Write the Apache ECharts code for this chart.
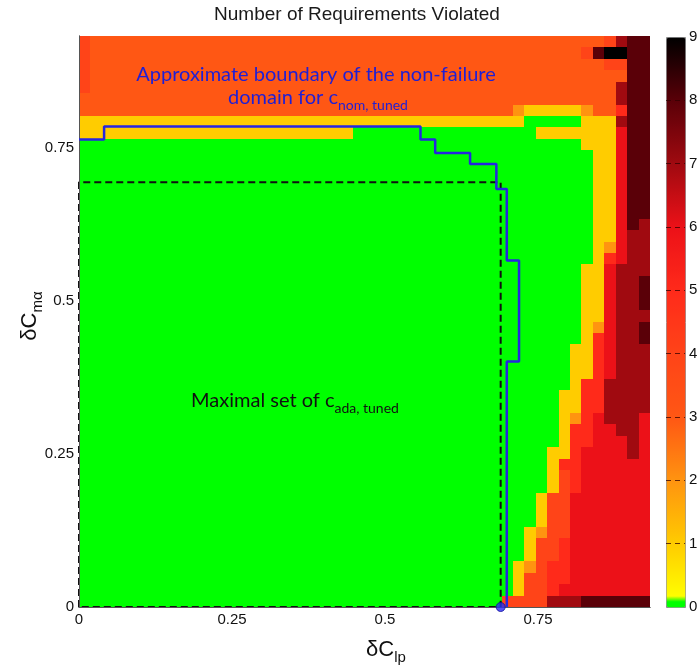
<!DOCTYPE html>
<html><head><meta charset="utf-8">
<script src="https://cdn.jsdelivr.net/npm/echarts@6/dist/echarts.min.js"></script>
<style>html,body{margin:0;padding:0;background:#fff}#c{width:697px;height:672px}</style>
</head><body><div id="c"></div>
<script>
// ---------- data ----------
const nCells = 50;                 // cells per side of the grid
const axisMax = 0.933;             // axis value at the far edge of the cell grid
const axisTicks = [0, 0.25, 0.5, 0.75];
const colorbarTicks = [0, 1, 2, 3, 4, 5, 6, 7, 8, 9];

// Number of requirements violated, one string per grid row (top row first), one digit per cell
const rowsUpper = [
  "4333333333 3333333333 3333333333 3333333333 3333334788",
  "4333333333 3333333333 3333333333 3333333333 3333489988",
  "4333333333 3333333333 3333333333 3333333333 3333334488",
  "4333333333 3333333333 3333333333 3333333333 3333333388",
  "4333333333 3333333333 3333333333 3333333333 3333333788",
  "3333333333 3333333333 3333333333 3333333333 3333333788",
  "3333333333 3333333333 3333333333 3333333321 1111233588",
  "1111111111 1111111111 1111111111 1111111110 0000111788",
  "1111111111 1111111111 1111000000 0000000000 1111111688",
  "0000000000 0000000000 0000000000 0000000000 0000111688",
  "0000000000 0000000000 0000000000 0000000000 0000011688",
  "0000000000 0000000000 0000000000 0000000000 0000011688"
];
const rowsMiddle = [
  "0000000000 0000000000 0000000000 0000000000 0000011688",
  "0000000000 0000000000 0000000000 0000000000 0000011688",
  "0000000000 0000000000 0000000000 0000000000 0000011688",
  "0000000000 0000000000 0000000000 0000000000 0000011688",
  "0000000000 0000000000 0000000000 0000000000 0000011687",
  "0000000000 0000000000 0000000000 0000000000 0000011677",
  "0000000000 0000000000 0000000000 0000000000 0000012677",
  "0000000000 0000000000 0000000000 0000000000 0000015677",
  "0000000000 0000000000 0000000000 0000000000 0000116777",
  "0000000000 0000000000 0000000000 0000000000 0000116778",
  "0000000000 0000000000 0000000000 0000000000 0000116778",
  "0000000000 0000000000 0000000000 0000000000 0000116778",
  "0000000000 0000000000 0000000000 0000000000 0000116777",
  "0000000000 0000000000 0000000000 0000000000 0000126778",
  "0000000000 0000000000 0000000000 0000000000 0000156778",
  "0000000000 0000000000 0000000000 0000000000 0001156777",
  "0000000000 0000000000 0000000000 0000000000 0001156777",
  "0000000000 0000000000 0000000000 0000000000 0001156777"
];
const rowsLower = [
  "0000000000 0000000000 0000000000 0000000000 0001557777",
  "0000000000 0000000000 0000000000 0000000000 0011557777",
  "0000000000 0000000000 0000000000 0000000000 0011557777",
  "0000000000 0000000000 0000000000 0000000000 0012567776",
  "0000000000 0000000000 0000000000 0000000000 0015566776",
  "0000000000 0000000000 0000000000 0000000000 0015566676",
  "0000000000 0000000000 0000000000 0000000000 0115666676",
  "0000000000 0000000000 0000000000 0000000000 0155666666",
  "0000000000 0000000000 0000000000 0000000000 0145666666",
  "0000000000 0000000000 0000000000 0000000000 0145666666",
  "0000000000 0000000000 0000000000 0000000000 1446666666",
  "0000000000 0000000000 0000000000 0000000000 1446666666",
  "0000000000 0000000000 0000000000 0000000000 1446666666",
  "0000000000 0000000000 0000000000 0000000001 2446666666",
  "0000000000 0000000000 0000000000 0000000001 4456666666",
  "0000000000 0000000000 0000000000 0000000001 4456666666",
  "0000000000 0000000000 0000000000 0000000012 4556666666",
  "0000000000 0000000000 0000000000 0000000014 4556666666",
  "0000000000 0000000000 0000000000 0000000014 4566666666",
  "0000000000 0000000000 0000000000 0000000444 4777888888"
];

// approximate boundary of the non-failure domain (blue step line)
const boundaryX = [0, 0.041, 0.041, 0.558, 0.558, 0.582, 0.582, 0.639, 0.639, 0.682, 0.682, 0.699, 0.699, 0.719, 0.719, 0.699, 0.699];
const boundaryY = [0.764, 0.764, 0.785, 0.785, 0.764, 0.764, 0.742, 0.742, 0.724, 0.724, 0.683, 0.683, 0.566, 0.566, 0.401, 0.401, 0];
// maximal set (dashed rectangle)
const maximalX = [0, 0, 0.689, 0.689, 0];
const maximalY = [0, 0.694, 0.694, 0, 0];
// marked point
const markedPoint = [0.689, 0];

const titleText = "Number of Requirements Violated";
const boundaryLine1 = "Approximate boundary of the non-failure";
const boundaryLine2 = "domain for c";
const boundarySub = "nom, tuned";
const maximalText = "Maximal set of c";
const maximalSub = "ada, tuned";
const xTitle = "δC", xTitleSub = "lp";
const yTitle = "δC", yTitleSub = "mα";

// ---------- colour map ----------
const keyStops = [[0,'#00ff00'],[0.14,'#00ff00'],[0.15,'#ffff00'],[1,'#ffcc00'],[2,'#ff9410'],[3,'#ff5714'],[4,'#ff4418'],[5,'#ff2a1a'],[6,'#ec1118'],[7,'#a00a10'],[8,'#5a0008'],[9,'#000000']];
function hex(c){return [1,3,5].map(i=>parseInt(c.substr(i,2),16));}
function colorAt(v){
  for(let i=0;i<keyStops.length-1;i++){
    const [a,ca]=keyStops[i],[b,cb]=keyStops[i+1];
    if(v>=a-1e-9 && v<=b+1e-9){
      const t=(v-a)/(b-a), A=hex(ca), B=hex(cb);
      return 'rgb('+A.map((x,k)=>Math.round(x+(B[k]-x)*t)).join(',')+')';
    }
  }
  return keyStops[keyStops.length-1][1];
}
const palette=[]; for(let i=0;i<=900;i++) palette.push(colorAt(i/100));

// ---------- build ----------
const allRows=[...rowsUpper,...rowsMiddle,...rowsLower];
const cellData=[];
allRows.forEach((s,i)=>{const d=s.replace(/ /g,''); const r=allRows.length-1-i; for(let c=0;c<d.length;c++) cellData.push([c,r,+d[c]]);});
const cellSize=axisMax/nCells;
const cats=Array.from({length:nCells},(_,i)=>String(i));
const zip=(xs,ys)=>xs.map((x,i)=>[x,ys[i]]);

function renderCell(params, api){
  const c=api.value(0), r=api.value(1);
  const p0=api.coord([c*cellSize, r*cellSize]);
  const p1=api.coord([(c+1)*cellSize, (r+1)*cellSize]);
  const x0=Math.round(p0[0]), x1=Math.round(p1[0]), y0=Math.round(p1[1]), y1=Math.round(p0[1]);
  return {type:'rect',shape:{x:x0,y:y0,width:x1-x0,height:y1-y0},style:{fill:api.visual('color')}};
}

const chart=echarts.init(document.getElementById('c'),null,{renderer:'canvas'});
const labelStyle={fontFamily:'Liberation Sans',fontSize:15,color:'#111'};
chart.setOption({
  animation:false,
  backgroundColor:'#fff',
  grid:[
    {left:79,top:36,width:571,height:571,show:false,outerBoundsMode:'none'},
    {left:666,top:37,width:19,height:570,show:false,outerBoundsMode:'none'}
  ],
  xAxis:[
    {type:'category',gridIndex:0,data:cats,position:'top',z:5,axisLine:{show:true,lineStyle:{color:'#555',width:1}},axisTick:{show:false},axisLabel:{show:false},splitLine:{show:false}},
    {type:'value',gridIndex:0,min:0,max:axisMax,interval:0.25,position:'bottom',z:5,
     axisLine:{show:true,onZero:false,lineStyle:{color:'#555',width:1}},axisTick:{show:false},splitLine:{show:false},
     axisLabel:Object.assign({margin:5,showMaxLabel:false,formatter:v=>axisTicks.includes(v)?String(v):''},labelStyle)},
    {type:'value',gridIndex:1,min:0,max:1,show:false}
  ],
  yAxis:[
    {type:'category',gridIndex:0,data:cats,position:'right',z:5,axisLine:{show:true,lineStyle:{color:'#555',width:1}},axisTick:{show:false},axisLabel:{show:false},splitLine:{show:false}},
    {type:'value',gridIndex:0,min:0,max:axisMax,interval:0.25,position:'left',z:5,
     axisLine:{show:true,onZero:false,lineStyle:{color:'#555',width:1}},axisTick:{show:false},splitLine:{show:false},
     axisLabel:Object.assign({margin:5,showMaxLabel:false,formatter:v=>axisTicks.includes(v)?String(v):''},labelStyle)},
    {type:'value',gridIndex:1,min:0,max:9,interval:1,position:'right',z:10,
     axisLine:{show:false},axisTick:{show:false},
     axisLabel:Object.assign({margin:4,formatter:v=>colorbarTicks.includes(v)?String(v):''},labelStyle),
     splitLine:{show:true,showMinLine:false,showMaxLine:false,lineStyle:{type:[5,4],color:'rgba(50,0,0,0.75)',width:1}}}
  ],
  visualMap:{type:'continuous',min:0,max:9,dimension:2,seriesIndex:0,calculable:false,left:666,top:37,itemWidth:19,itemHeight:570,
    padding:0,borderColor:'#888',borderWidth:1,inRange:{color:palette},text:null,hoverLink:false},
  series:[
    {type:'custom',xAxisIndex:1,yAxisIndex:1,data:cellData,renderItem:renderCell,silent:true,z:2,encode:{x:-1,y:-1}},
    {type:'line',xAxisIndex:1,yAxisIndex:1,data:zip(maximalX,maximalY),symbol:'none',clip:false,silent:true,z:4,
     lineStyle:{color:'#111',width:2,type:[7,4]}},
    {type:'line',xAxisIndex:1,yAxisIndex:1,data:zip(boundaryX,boundaryY),symbol:'none',clip:false,silent:true,z:5,
     lineStyle:{color:'#2626e0',width:2.5}},
    {type:'scatter',xAxisIndex:1,yAxisIndex:1,data:[markedPoint],symbolSize:9,clip:false,silent:true,z:6,
     itemStyle:{color:'#2a2af0',borderColor:'#10109a',borderWidth:1}}
  ],
  graphic:[
    {type:'text',x:357,y:15,z:100,style:{text:titleText,fontFamily:'Liberation Sans',fontSize:19,fill:'#1a1a1a',align:'center',verticalAlign:'middle'}},
    {type:'text',x:316,y:75,z:100,style:{text:boundaryLine1,fontFamily:'Lato',fontSize:20,fill:'#1f1fd6',align:'center',verticalAlign:'middle'}},
    {type:'text',x:318,y:88,z:100,style:{text:'{a|'+boundaryLine2+'}{s|'+boundarySub+'}',align:'center',verticalAlign:'top',
      rich:{a:{fontFamily:'Lato',fontSize:20,lineHeight:20,verticalAlign:'top',fill:'#1f1fd6'},s:{fontFamily:'Lato',fontSize:14,lineHeight:14,padding:[10,0,0,0],verticalAlign:'top',fill:'#1f1fd6'}}}},
    {type:'text',x:295,y:391,z:100,style:{text:'{a|'+maximalText+'}{s|'+maximalSub+'}',align:'center',verticalAlign:'top',
      rich:{a:{fontFamily:'Lato',fontSize:20,lineHeight:20,verticalAlign:'top',fill:'#111'},s:{fontFamily:'Lato',fontSize:14,lineHeight:14,padding:[10,0,0,0],verticalAlign:'top',fill:'#111'}}}},
    {type:'text',x:386,y:639,z:100,style:{text:'{a|'+xTitle+'}{s|'+xTitleSub+'}',align:'center',verticalAlign:'top',
      rich:{a:{fontFamily:'Liberation Sans',fontSize:22,lineHeight:22,verticalAlign:'top',fill:'#111'},s:{fontFamily:'Liberation Sans',fontSize:15,lineHeight:15,padding:[11,0,0,0],verticalAlign:'top',fill:'#111'}}}},
    {type:'text',x:19,y:316,rotation:Math.PI/2,z:100,style:{text:'{a|'+yTitle+'}{s|'+yTitleSub+'}',align:'center',verticalAlign:'top',
      rich:{a:{fontFamily:'Liberation Sans',fontSize:22,lineHeight:22,verticalAlign:'top',fill:'#111'},s:{fontFamily:'Liberation Sans',fontSize:15,lineHeight:15,padding:[11,0,0,0],verticalAlign:'top',fill:'#111'}}}}
  ]
});
</script></body></html>
